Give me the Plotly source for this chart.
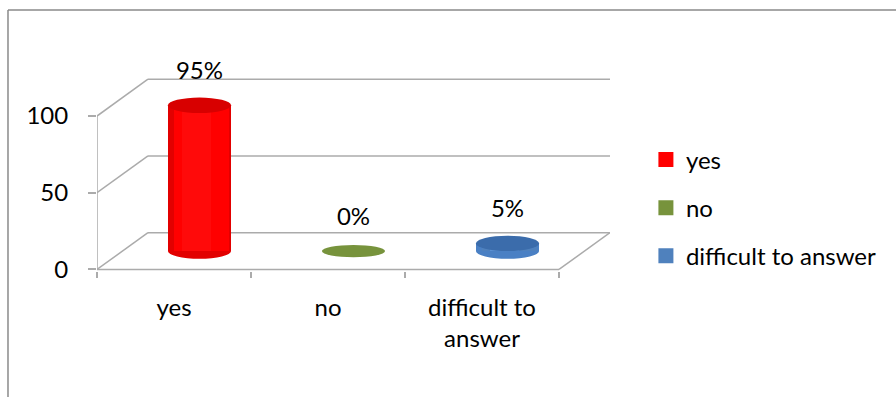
import plotly.graph_objects as go

categories = ["yes", "no", "difficult to answer"]
tick_labels = ["yes", "no", "difficult to<br>answer"]
values = [95, 0, 5]
value_labels = ["95%", "0%", "5%"]
y_ticks = [0, 50, 100]
colors = ["#ff0000", "#77933c", "#4f81bd"]
edge_colors = ["#e20000", "#627d2e", "#4a80c4"]
top_colors = ["#d80000", "#6f8b36", "#3b6cab"]
side_colors = ["#ff0a0a", "#7f9c42", "#5a90d2"]

DX = 0.331   # depth offset (category units)
DY = 24      # depth offset (value units)
W = 0.41     # cylinder width
HH = 5       # ellipse half height (value units)
GRID = "#ababab"
FONT = "Lato"
FS = 24

fig = go.Figure()
shapes = []
n = len(categories)

# 3D walls / gridlines derived from tick values
for v in y_ticks:
    shapes.append(dict(type="line", xref="x", yref="y", x0=-0.5, y0=v, x1=-0.5 + DX, y1=v + DY,
                       line=dict(color=GRID, width=1.5), layer="below"))
    shapes.append(dict(type="line", xref="x", yref="y", x0=-0.5 + DX, y0=v + DY, x1=n - 0.5 + DX,
                       y1=v + DY, line=dict(color=GRID, width=1.5), layer="below"))
shapes.append(dict(type="line", xref="x", yref="y", x0=-0.5, y0=0, x1=n - 0.5, y1=0,
                   line=dict(color=GRID, width=1.5), layer="below"))
shapes.append(dict(type="line", xref="x", yref="y", x0=n - 0.5, y0=0, x1=n - 0.5 + DX, y1=DY,
                   line=dict(color=GRID, width=1.5), layer="below"))
shapes.append(dict(type="line", xref="x", yref="y", x0=-0.5, y0=0, x1=-0.5, y1=max(y_ticks),
                   line=dict(color=GRID, width=1.5), layer="below"))

for i, (cat, v) in enumerate(zip(categories, values)):
    cx = i + DX / 2
    base = DY / 2
    hh = HH if v > 0 else 4
    if v > 0:
        shapes.append(dict(type="circle", xref="x", yref="y", x0=cx - W / 2, x1=cx + W / 2,
                           y0=base - hh, y1=base + hh, fillcolor=edge_colors[i],
                           line=dict(width=0), layer="below"))
        fig.add_trace(go.Bar(x=[cx], y=[v], base=[base], width=W, legendgroup=cat,
                             marker=dict(color=edge_colors[i], line=dict(width=0)),
                             hoverinfo="skip", showlegend=False))
        fig.add_trace(go.Bar(x=[cx + W * 0.03], y=[v], base=[base], width=W * 0.88, legendgroup=cat,
                             marker=dict(color=colors[i], line=dict(width=0)),
                             hoverinfo="skip", showlegend=False))
        fig.add_trace(go.Bar(x=[cx - W * 0.05], y=[v], base=[base], width=W * 0.45, legendgroup=cat,
                             marker=dict(color=side_colors[i], line=dict(width=0)),
                             hoverinfo="skip", showlegend=False))
    shapes.append(dict(type="circle", xref="x", yref="y", x0=cx - W / 2, x1=cx + W / 2,
                       y0=base + v - hh, y1=base + v + hh,
                       fillcolor=top_colors[i] if v > 0 else colors[i],
                       line=dict(width=0), layer="above"))
    # legend entry
    fig.add_trace(go.Scatter(x=[None], y=[None], mode="markers", name=cat, legendgroup=cat,
                             marker=dict(symbol="square", size=15, color=colors[i]),
                             showlegend=True))

# data labels
fig.add_trace(go.Scatter(x=[i + DX / 2 for i in range(n)],
                         y=[v + DY / 2 + 21 for v in values], text=value_labels, mode="text",
                         textfont=dict(family=FONT, size=FS, color="#000000"),
                         showlegend=False, hoverinfo="skip", cliponaxis=False))

# tick-label-only axis for categories
fig.add_trace(go.Scatter(x=list(range(n)), y=[None] * n, xaxis="x2",
                         showlegend=False, hoverinfo="skip"))

# outer chart border (top and left)
shapes.append(dict(type="line", xref="paper", yref="paper", x0=-0.1735, y0=1.2985, x1=1.56, y1=1.2985,
                   line=dict(color="#8a8a8a", width=1.5)))
shapes.append(dict(type="line", xref="paper", yref="paper", x0=-0.1735, y0=-0.7, x1=-0.1735, y1=1.2985,
                   line=dict(color="#8a8a8a", width=1.5)))

xr = [-0.5, n - 0.5 + DX]
fig.update_layout(
    width=896, height=397,
    margin=dict(l=97, r=286, t=70, b=126),
    paper_bgcolor="white", plot_bgcolor="white",
    barmode="overlay", bargap=0,
    shapes=shapes,
    font=dict(family=FONT, size=FS, color="#000000"),
    xaxis=dict(range=xr, tickvals=[k - 0.5 for k in range(n + 1)], ticktext=[""] * (n + 1),
               ticks="outside", ticklen=6, tickcolor=GRID, tickwidth=1.5, showgrid=False,
               zeroline=False, showline=False, fixedrange=True),
    xaxis2=dict(range=xr, overlaying="x", side="bottom", anchor="y",
                tickvals=list(range(n)), ticktext=tick_labels, ticks="",
                ticklabelstandoff=20, showgrid=False, zeroline=False, showline=False,
                tickfont=dict(family=FONT, size=FS)),
    yaxis=dict(range=[-1, 130], tickvals=y_ticks, ticks="outside", ticklen=8, tickcolor=GRID,
               tickwidth=1.5, ticklabelstandoff=15, showgrid=False, zeroline=False,
               showline=False, tickfont=dict(family=FONT, size=FS)),
    legend=dict(x=1.07, y=0.665, xanchor="left", yanchor="top", tracegroupgap=14,
                itemsizing="trace", font=dict(family=FONT, size=FS), bgcolor="rgba(0,0,0,0)"),
    showlegend=True,
)

fig.write_html("out.html")
